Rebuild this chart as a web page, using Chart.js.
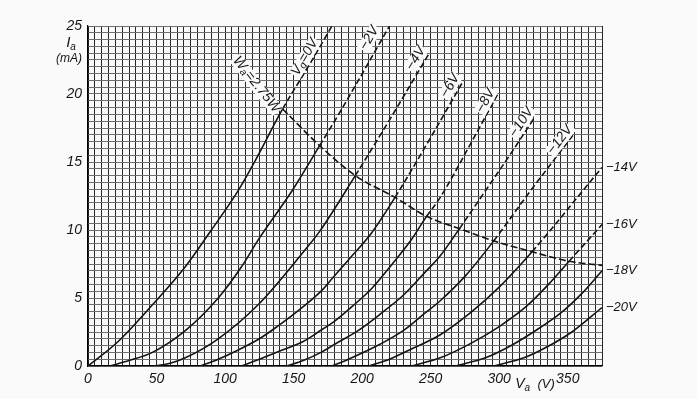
<!DOCTYPE html>
<html>
<head>
<meta charset="utf-8">
<script src="https://cdn.jsdelivr.net/npm/chart.js@4.4.1/dist/chart.umd.min.js"></script>
<style>
  html, body { margin:0; padding:0; background:#fafafa; }
  #wrap { width:697px; height:399px; }
</style>
</head>
<body>
<div id="wrap"><canvas id="tube" width="697" height="399"></canvas></div>
<script>
// anode characteristics, Va (V) vs Ia (mA), one array per grid voltage
const gridVolts = [0, -2, -4, -6, -8, -10, -12, -14, -16, -18, -20];
const g0  = [[0,0],[22,1.8],[47,4.5],[71,7.3],[90,10.0],[109,12.8],[122,15.1],[142,18.9],[160,21.9],[178,25]];
const g2  = [[16,0],[30,0.4],[47,1.0],[71,2.6],[95,5.0],[112,7.3],[125,9.4],[149,12.9],[169,16.2],[184,18.7],[220,25]];
const g4  = [[48,0],[60,0.2],[71,0.6],[95,2.0],[125,4.6],[158,8.5],[169,9.9],[195,14.0],[220,18.1],[249,23.0]];
const g6  = [[82,0],[95,0.5],[110,1.2],[125,2.0],[138,2.9],[155,4.2],[171,5.6],[177,6.3],[190,7.8],[207,9.8],[224,12.4],[250,16.8],[274,21.0]];
const g8  = [[112,0],[125,0.5],[140,1.1],[157,1.8],[171,2.7],[180,3.3],[193,4.4],[207,5.7],[222,7.5],[236,9.3],[247,11.0],[257,12.4],[280,16.5],[299,20.0]];
const g10 = [[145,0],[157,0.4],[170,1.0],[180,1.6],[197,2.6],[213,3.8],[230,5.2],[246,6.9],[257,8.1],[271,10.1],[288,12.6],[307,15.4],[326,18.3]];
const g12 = [[178,0],[190,0.5],[213,1.6],[230,2.6],[246,3.9],[257,4.8],[276,6.7],[296,9.2],[320,12.5],[354,17.0]];
const g14 = [[205,0],[220,0.5],[237,1.3],[257,2.3],[280,4.0],[300,5.8],[324,8.4],[340,10.3],[357,12.4],[375,14.6]];
const g16 = [[236,0],[257,0.6],[280,1.7],[300,2.9],[320,4.4],[336,6.0],[351,7.7],[375,10.4]];
const g18 = [[268,0],[290,0.6],[305,1.3],[325,2.5],[345,3.9],[360,5.3],[375,7.0]];
const g20 = [[296,0],[318,0.6],[333,1.3],[353,2.5],[375,4.3]];
const curves = [g0, g2, g4, g6, g8, g10, g12, g14, g16, g18, g20];

// max anode dissipation Wa = 2.75 W (points where it meets each curve)
const waVa = [142, 169, 195, 224, 247, 271, 296, 324, 351, 375];
const waIa = [18.9, 16.2, 14.0, 12.4, 11.0, 10.1, 9.2, 8.4, 7.7, 7.4];

// axis ticks
const vaTicks = [0, 50, 100, 150, 200, 250, 300, 350];
const iaTicks = [0, 5, 10, 15, 20, 25];

// labels on the dashed ends (centre of text, in data units)
const topLabels = ['=0V', '−2V', '−4V', '−6V', '−8V', '−10V', '−12V'];
const topLabelVa = [160, 207, 241, 266, 292, 318, 346];
const topLabelIa = [22.6, 24.0, 22.5, 20.5, 19.4, 17.8, 16.5];
const sideLabels = ['−14V', '−16V', '−18V', '−20V'];

const INK = '#151515';
const PAPER = '#fafafa';
const FONT = '"Liberation Sans", Arial, sans-serif';

const datasets = curves.map((pts, i) => {
  const knee = i < waVa.length - 1 ? waVa[i] : Infinity;
  return {
    label: 'Vg=' + gridVolts[i] + 'V',
    data: pts.map(p => ({ x: p[0], y: p[1] })),
    borderColor: INK, borderWidth: 1.6, pointRadius: 0,
    cubicInterpolationMode: 'monotone',
    segment: { borderDash: ctx => ctx.p0.parsed.x >= knee - 0.01 ? [6, 3] : undefined }
  };
});
datasets.push({
  label: 'Wa=2.75W',
  data: waVa.map((v, i) => ({ x: v, y: waIa[i] })),
  borderColor: INK, borderWidth: 1.6, pointRadius: 0,
  cubicInterpolationMode: 'monotone', borderDash: [7, 3]
});

// paper background
const paper = {
  id: 'paper',
  beforeDraw(chart){
    const c = chart.ctx;
    c.save(); c.fillStyle = PAPER; c.fillRect(0, 0, chart.width, chart.height); c.restore();
  }
};

// draw text parts (with subscripts) rotated around a centre point
function rotText(c, parts, x, y, ang, align, lift, knock){
  c.save();
  c.translate(x, y); c.rotate(ang); c.translate(0, -(lift || 0));
  c.textBaseline = 'middle'; c.textAlign = 'left';
  let w = 0;
  parts.forEach(p => { c.font = 'italic ' + p.size + 'px ' + FONT; w += c.measureText(p.t).width; });
  let cx = align === 'left' ? 0 : -w / 2;
  if (knock) { c.fillStyle = PAPER; c.fillRect(cx - 1, -6, w + 2, 13); }
  c.fillStyle = INK;
  parts.forEach(p => {
    c.font = 'italic ' + p.size + 'px ' + FONT;
    c.fillText(p.t, cx, p.dy || 0);
    cx += c.measureText(p.t).width;
  });
  c.restore();
}

const notes = {
  id: 'notes',
  afterDraw(chart){
    const c = chart.ctx, xs = chart.scales.x, ys = chart.scales.y;
    const X = v => xs.getPixelForValue(v), Y = v => ys.getPixelForValue(v);
    // curve labels, angle taken from the last segment of each curve
    topLabels.forEach((t, i) => {
      const pts = curves[i], a = pts[pts.length - 2], b = pts[pts.length - 1];
      const ang = Math.atan2(Y(b[1]) - Y(a[1]), X(b[0]) - X(a[0]));
      const parts = i === 0
        ? [{t:'V', size:14}, {t:'g', size:10, dy:3}, {t:t, size:14}]
        : [{t:t, size:14}];
      rotText(c, parts, X(topLabelVa[i]), Y(topLabelIa[i]), ang, 'center', 3, true);
    });
    // dissipation label
    rotText(c, [{t:'W', size:14}, {t:'a', size:10, dy:3}, {t:'=2.75W', size:14}],
      X(123), Y(20.7), 0.9, 'center', 0, true);
    // labels at the right edge
    sideLabels.forEach((t, k) => {
      const pts = curves[7 + k], end = pts[pts.length - 1];
      rotText(c, [{t:t, size:13}], chart.chartArea.right + 4, Y(end[1]), 0, 'left');
    });
    // axis titles
    rotText(c, [{t:'I', size:15}, {t:'a', size:10, dy:4}], 71, 43, 0, 'center');
    rotText(c, [{t:'(mA)', size:12}], 69, 59, 0, 'center');
    rotText(c, [{t:'V', size:14}, {t:'a', size:10, dy:4}, {t:'  (V)', size:13}], 535, 384, 0, 'center');
  }
};

new Chart(document.getElementById('tube'), {
  type: 'line',
  data: { datasets },
  options: {
    responsive: false, animation: false, devicePixelRatio: 1,
    layout: { padding: { left: 0, top: 26, right: 95, bottom: 0 } },
    plugins: { legend: { display: false }, tooltip: { enabled: false } },
    scales: {
      x: {
        type: 'linear', min: 0, max: 375,
        afterFit: s => { s.height = 33; },
        border: { color: '#000', width: 1.2 },
        grid: { color: '#262626', lineWidth: 1, drawTicks: false },
        ticks: {
          stepSize: 5, autoSkip: false, maxRotation: 0, padding: 5, color: INK,
          font: { family: FONT, size: 14, style: 'italic' },
          callback: v => vaTicks.includes(v) ? v : ''
        }
      },
      y: {
        type: 'linear', min: 0, max: 25,
        afterFit: s => { s.width = 88; },
        border: { color: '#000', width: 1.2 },
        grid: { color: '#6e6e6e', lineWidth: 1, drawTicks: false },
        ticks: {
          stepSize: 0.5, autoSkip: false, padding: 6, color: INK,
          font: { family: FONT, size: 14, style: 'italic' },
          callback: v => iaTicks.includes(v) ? v : ''
        }
      }
    }
  },
  plugins: [paper, notes]
});
</script>
</body>
</html>
